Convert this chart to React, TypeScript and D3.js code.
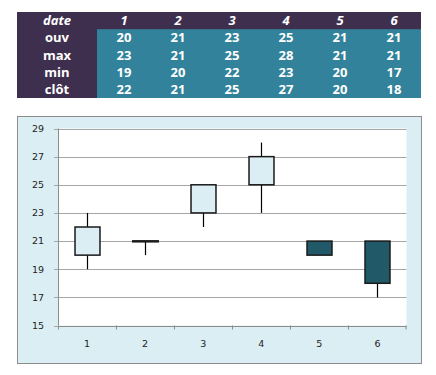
import React from "react";
import * as d3 from "d3";

const dates = ["1", "2", "3", "4", "5", "6"];
const ouv = [20, 21, 23, 25, 21, 21];
const max = [23, 21, 25, 28, 21, 21];
const min = [19, 20, 22, 23, 20, 17];
const clot = [22, 21, 25, 27, 20, 18];
const rowLabels = ["ouv", "max", "min", "clôt"];
const yTicks = [15, 17, 19, 21, 23, 25, 27, 29];

const App: React.FC = () => {
  const width = 436;
  const height = 375;

  // table geometry
  const tLeft = 17;
  const tRight = 421;
  const tTop = 12;
  const rowH = 17.2;
  const labelColW = 80;
  const colX = d3
    .scaleBand<string>()
    .domain(dates)
    .range([tLeft + labelColW, tRight]);
  const rows = [ouv, max, min, clot];

  // chart geometry
  const frame = { x: 17, y: 116, w: 404, h: 247 };
  const plot = { left: 58, right: 406.5, top: 128.5, bottom: 325.5 };

  const x = d3.scaleBand<string>().domain(dates).range([plot.left, plot.right]);
  const y = d3.scaleLinear().domain([15, 29]).range([plot.bottom, plot.top]);
  const bodyW = x.bandwidth() * 0.43;

  return (
    <svg
      width={width}
      height={height}
      style={{ position: "absolute", left: 0, top: 0 }}
    >
      {/* table */}
      <rect x={tLeft} y={tTop} width={tRight - tLeft} height={rowH * 5} fill="#3f2f4f" />
      <rect
        x={tLeft + labelColW}
        y={tTop + rowH}
        width={tRight - tLeft - labelColW}
        height={rowH * 4}
        fill="#31829a"
      />
      <g
        fontFamily="'Open Sans', 'Liberation Sans', sans-serif"
        fontWeight="bold"
        fontSize={13}
        fill="#ffffff"
        textAnchor="middle"
      >
        <text x={tLeft + labelColW / 2} y={tTop + rowH / 2} dy="0.35em" fontStyle="italic">
          date
        </text>
        {dates.map((d) => (
          <text
            key={d}
            x={(colX(d) ?? 0) + colX.bandwidth() / 2}
            y={tTop + rowH / 2}
            dy="0.35em"
            fontStyle="italic"
          >
            {d}
          </text>
        ))}
        {rowLabels.map((r, i) => (
          <text key={r} x={tLeft + labelColW / 2} y={tTop + rowH * (i + 1.5)} dy="0.35em">
            {r}
          </text>
        ))}
        {rows.map((vals, i) =>
          vals.map((v, j) => (
            <text
              key={`${i}-${j}`}
              x={(colX(dates[j]) ?? 0) + colX.bandwidth() / 2}
              y={tTop + rowH * (i + 1.5)}
              dy="0.35em"
            >
              {v}
            </text>
          ))
        )}
      </g>

      {/* chart frame */}
      <rect
        x={frame.x + 0.5}
        y={frame.y + 0.5}
        width={frame.w}
        height={frame.h}
        fill="#dbeef4"
        stroke="#8c8c8c"
        strokeWidth={1}
      />
      <rect
        x={plot.left}
        y={plot.top}
        width={plot.right - plot.left}
        height={plot.bottom - plot.top}
        fill="#ffffff"
      />

      {/* grid lines */}
      {yTicks.map((t) => (
        <line
          key={t}
          x1={plot.left - 4}
          x2={plot.right}
          y1={Math.round(y(t)) + 0.5}
          y2={Math.round(y(t)) + 0.5}
          stroke="#a6a6a6"
          strokeWidth={1}
        />
      ))}
      {/* axes */}
      <line
        x1={plot.left + 0.5}
        x2={plot.left + 0.5}
        y1={plot.top}
        y2={plot.bottom}
        stroke="#8c8c8c"
      />
      <line
        x1={plot.left}
        x2={plot.right}
        y1={Math.round(plot.bottom) + 0.5}
        y2={Math.round(plot.bottom) + 0.5}
        stroke="#8c8c8c"
      />
      {dates.map((d) => (
        <line
          key={d}
          x1={Math.round(x(d) ?? 0) + 0.5}
          x2={Math.round(x(d) ?? 0) + 0.5}
          y1={plot.bottom}
          y2={plot.bottom + 4}
          stroke="#8c8c8c"
        />
      ))}
      <line
        x1={plot.right - 0.5}
        x2={plot.right - 0.5}
        y1={plot.bottom}
        y2={plot.bottom + 4}
        stroke="#8c8c8c"
      />

      <g fontFamily="'DejaVu Sans', Verdana, sans-serif" fontSize={9.5} fill="#222222">
        {yTicks.map((t) => (
          <text key={t} x={plot.left - 14} y={y(t)} dy="0.35em" textAnchor="end">
            {t}
          </text>
        ))}
        {dates.map((d) => (
          <text
            key={d}
            x={(x(d) ?? 0) + x.bandwidth() / 2}
            y={344}
            dy="0.35em"
            textAnchor="middle"
          >
            {d}
          </text>
        ))}
      </g>

      {/* candles */}
      {dates.map((d, i) => {
        const cx = Math.round((x(d) ?? 0) + x.bandwidth() / 2) + 0.5;
        const up = clot[i] >= ouv[i];
        const top = y(Math.max(ouv[i], clot[i]));
        const bot = y(Math.min(ouv[i], clot[i]));
        return (
          <g key={d}>
            <line x1={cx} x2={cx} y1={y(max[i])} y2={y(min[i])} stroke="#000000" strokeWidth={1.2} />
            <rect
              x={cx - bodyW / 2}
              y={top}
              width={bodyW}
              height={Math.max(bot - top, 0.5)}
              fill={up ? "#dbeef4" : "#215968"}
              stroke="#1a1a1a"
              strokeWidth={bot - top < 1 ? 2 : 1.5}
            />
          </g>
        );
      })}
    </svg>
  );
};

export default App;
